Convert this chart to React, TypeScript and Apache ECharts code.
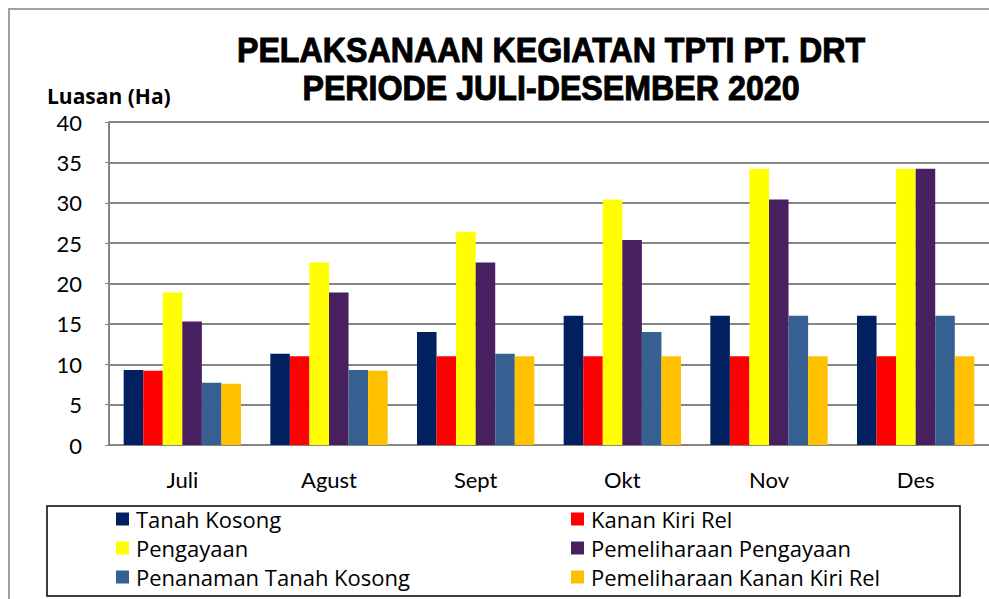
import React, { useEffect, useRef } from "react";
import * as echarts from "echarts";

const categories = ["Juli", "Agust", "Sept", "Okt", "Nov", "Des"];
const seriesNames = [
  "Tanah Kosong",
  "Kanan Kiri Rel",
  "Pengayaan",
  "Pemeliharaan Pengayaan",
  "Penanaman Tanah Kosong",
  "Pemeliharaan Kanan Kiri Rel",
];
const tanahKosong = [9.3, 11.3, 14, 16, 16, 16];
const kananKiriRel = [9.2, 11, 11, 11, 11, 11];
const pengayaan = [18.9, 22.6, 26.4, 30.4, 34.2, 34.2];
const pemeliharaanPengayaan = [15.3, 18.9, 22.6, 25.4, 30.4, 34.2];
const penanamanTanahKosong = [7.7, 9.3, 11.3, 14, 16, 16];
const pemeliharaanKananKiriRel = [7.6, 9.2, 11, 11, 11, 11];
const yTicks = [0, 5, 10, 15, 20, 25, 30, 35, 40];

const colors = ["#002060", "#FF0000", "#FFFF00", "#482060", "#366092", "#FFC000"];
const allData = [
  tanahKosong,
  kananKiriRel,
  pengayaan,
  pemeliharaanPengayaan,
  penanamanTanahKosong,
  pemeliharaanKananKiriRel,
];

const FONT = "Lato, 'Open Sans', sans-serif";
const LEG_FONT = "'Open Sans', Lato, sans-serif";
const TITLE_FONT = "bold 35px 'Liberation Sans', Arial, sans-serif";

export default function App() {
  const ref = useRef<HTMLDivElement>(null);
  useEffect(() => {
    if (!ref.current) return;
    const chart = echarts.init(ref.current, null, { renderer: "svg" });
    const legendText = { fontFamily: LEG_FONT, fontSize: 22, color: "#000", padding: [0, 0, 0, 2] };
    chart.setOption({
      animation: false,
      backgroundColor: "#fff",
      grid: { left: 109, top: 122, bottom: 154, right: -4, containLabel: false },
      xAxis: {
        type: "category",
        data: categories,
        axisLine: { show: true, lineStyle: { color: "#868686", width: 2 } },
        axisTick: { show: false },
        axisLabel: { fontFamily: FONT, fontSize: 22, color: "#000", margin: 23 },
      },
      yAxis: {
        type: "value",
        min: yTicks[0],
        max: yTicks[yTicks.length - 1],
        interval: 5,
        axisLine: { show: true, lineStyle: { color: "#868686", width: 2 } },
        axisTick: { show: true, length: 4, lineStyle: { color: "#868686" } },
        splitLine: { show: true, lineStyle: { color: "#868686", width: 2 } },
        axisLabel: { fontFamily: FONT, fontSize: 22, color: "#000", margin: 27 },
      },
      legend: [
        {
          orient: "vertical",
          left: 111,
          top: 503,
          itemWidth: 13,
          itemHeight: 13,
          itemGap: 7,
          icon: "rect",
          textStyle: legendText,
          data: [seriesNames[0], seriesNames[2], seriesNames[4]],
        },
        {
          orient: "vertical",
          left: 566,
          top: 503,
          itemWidth: 13,
          itemHeight: 13,
          itemGap: 7,
          icon: "rect",
          textStyle: legendText,
          data: [seriesNames[1], seriesNames[3], seriesNames[5]],
        },
      ],
      graphic: [
        {
          type: "rect",
          shape: { x: 9, y: 9, width: 1100, height: 700 },
          style: { fill: "none", stroke: "#a0a0a0", lineWidth: 2 },
          silent: true,
          z: -1,
        },
        {
          type: "rect",
          shape: { x: 47, y: 506, width: 913, height: 90 },
          style: { fill: "none", stroke: "#000", lineWidth: 1.5 },
          silent: true,
        },
        {
          type: "text",
          x: 551,
          y: 50,
          scaleX: 0.92,
          style: {
            text: "PELAKSANAAN KEGIATAN TPTI PT. DRT",
            font: TITLE_FONT,
            fill: "#000",
            stroke: "#000",
            lineWidth: 1,
            align: "center",
            verticalAlign: "middle",
          },
        },
        {
          type: "text",
          x: 551,
          y: 88,
          scaleX: 0.92,
          style: {
            text: "PERIODE JULI-DESEMBER 2020",
            font: TITLE_FONT,
            fill: "#000",
            stroke: "#000",
            lineWidth: 1,
            align: "center",
            verticalAlign: "middle",
          },
        },
        {
          type: "text",
          x: 47,
          y: 96,
          style: {
            text: "Luasan (Ha)",
            font: "bold 21px 'Open Sans', Lato, sans-serif",
            fill: "#000",
            align: "left",
            verticalAlign: "middle",
          },
        },
      ],
      series: seriesNames.map((name, i) => ({
        name,
        type: "bar",
        data: allData[i],
        barGap: "0%",
        barCategoryGap: "20%",
        itemStyle: { color: colors[i] },
      })),
    });
    return () => chart.dispose();
  }, []);
  return (
    <div
      ref={ref}
      style={{ position: "fixed", left: 0, top: 0, width: 989, height: 599, overflow: "hidden" }}
    />
  );
}
